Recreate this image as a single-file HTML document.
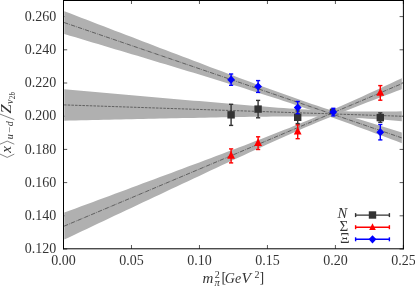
<!DOCTYPE html>
<html><head><meta charset="utf-8"><title>plot</title>
<style>
html,body{margin:0;padding:0;background:#fff;}
body{width:415px;height:286px;overflow:hidden;font-family:"Liberation Serif",serif;}
svg{display:block;will-change:transform;}
text{font-family:"Liberation Serif",serif;fill:#343434;}
.it{font-style:italic;}
</style></head><body>
<svg width="415" height="286" viewBox="0 0 415 286">
<rect x="0" y="0" width="415" height="286" fill="#ffffff"/>
<g stroke="#111" stroke-width="0.7"><line x1="63.50" y1="249.00" x2="67.20" y2="249.00"/><line x1="403.40" y1="249.00" x2="399.60" y2="249.00"/><line x1="63.50" y1="215.80" x2="67.20" y2="215.80"/><line x1="403.40" y1="215.80" x2="399.60" y2="215.80"/><line x1="63.50" y1="182.60" x2="67.20" y2="182.60"/><line x1="403.40" y1="182.60" x2="399.60" y2="182.60"/><line x1="63.50" y1="149.40" x2="67.20" y2="149.40"/><line x1="403.40" y1="149.40" x2="399.60" y2="149.40"/><line x1="63.50" y1="116.20" x2="67.20" y2="116.20"/><line x1="403.40" y1="116.20" x2="399.60" y2="116.20"/><line x1="63.50" y1="83.00" x2="67.20" y2="83.00"/><line x1="403.40" y1="83.00" x2="399.60" y2="83.00"/><line x1="63.50" y1="49.80" x2="67.20" y2="49.80"/><line x1="403.40" y1="49.80" x2="399.60" y2="49.80"/><line x1="63.50" y1="16.60" x2="67.20" y2="16.60"/><line x1="403.40" y1="16.60" x2="399.60" y2="16.60"/><line x1="63.50" y1="248.80" x2="63.50" y2="245.00"/><line x1="63.50" y1="0.50" x2="63.50" y2="4.00"/><line x1="131.48" y1="248.80" x2="131.48" y2="245.00"/><line x1="131.48" y1="0.50" x2="131.48" y2="4.00"/><line x1="199.46" y1="248.80" x2="199.46" y2="245.00"/><line x1="199.46" y1="0.50" x2="199.46" y2="4.00"/><line x1="267.44" y1="248.80" x2="267.44" y2="245.00"/><line x1="267.44" y1="0.50" x2="267.44" y2="4.00"/><line x1="335.42" y1="248.80" x2="335.42" y2="245.00"/><line x1="335.42" y1="0.50" x2="335.42" y2="4.00"/><line x1="403.40" y1="248.80" x2="403.40" y2="245.00"/><line x1="403.40" y1="0.50" x2="403.40" y2="4.00"/></g>
<g><polygon points="64.30,11.20 69.92,13.36 75.55,15.52 81.17,17.69 86.80,19.85 92.42,22.01 98.05,24.17 103.67,26.33 109.30,28.49 114.92,30.65 120.55,32.81 126.17,34.96 131.80,37.12 137.43,39.28 143.05,41.43 148.68,43.58 154.30,45.73 159.93,47.88 165.55,50.03 171.18,52.18 176.80,54.32 182.43,56.46 188.05,58.60 193.68,60.74 199.30,62.87 204.93,65.00 210.55,67.13 216.18,69.25 221.80,71.37 227.43,73.48 233.05,75.58 238.68,77.68 244.30,79.77 249.93,81.86 255.55,83.93 261.18,85.99 266.80,88.04 272.43,90.08 278.05,92.11 283.68,94.11 289.30,96.10 294.93,98.08 300.55,100.03 306.18,101.96 311.80,103.88 317.43,105.77 323.05,107.65 328.68,109.50 334.30,111.34 339.93,113.16 345.55,114.97 351.18,116.77 356.80,118.55 362.43,120.32 368.05,122.08 373.68,123.84 379.30,125.58 384.93,127.32 390.55,129.05 396.18,130.78 401.80,132.50 401.80,143.22 396.18,141.10 390.55,138.98 384.93,136.87 379.30,134.77 373.68,132.67 368.05,130.58 362.43,128.50 356.80,126.43 351.18,124.37 345.55,122.33 339.93,120.29 334.30,118.27 328.68,116.27 323.05,114.29 317.43,112.32 311.80,110.37 306.18,108.44 300.55,106.54 294.93,104.65 289.30,102.78 283.68,100.93 278.05,99.09 272.43,97.27 266.80,95.47 261.18,93.68 255.55,91.90 249.93,90.13 244.30,88.37 238.68,86.62 233.05,84.88 227.43,83.14 221.80,81.41 216.18,79.69 210.55,77.97 204.93,76.25 199.30,74.54 193.68,72.83 188.05,71.13 182.43,69.42 176.80,67.72 171.18,66.02 165.55,64.33 159.93,62.63 154.30,60.94 148.68,59.25 143.05,57.56 137.43,55.87 131.80,54.19 126.17,52.50 120.55,50.82 114.92,49.13 109.30,47.45 103.67,45.77 98.05,44.08 92.42,42.40 86.80,40.72 81.17,39.04 75.55,37.36 69.92,35.69 64.30,34.01" fill="#b0b0b0"/><polygon points="64.30,89.15 69.92,89.65 75.55,90.16 81.17,90.66 86.80,91.16 92.42,91.67 98.05,92.17 103.67,92.67 109.30,93.17 114.92,93.68 120.55,94.18 126.17,94.68 131.80,95.18 137.43,95.68 143.05,96.18 148.68,96.68 154.30,97.17 159.93,97.67 165.55,98.17 171.18,98.66 176.80,99.16 182.43,99.65 188.05,100.14 193.68,100.63 199.30,101.12 204.93,101.61 210.55,102.10 216.18,102.58 221.80,103.06 227.43,103.54 233.05,104.02 238.68,104.49 244.30,104.96 249.93,105.42 255.55,105.88 261.18,106.33 266.80,106.78 272.43,107.22 278.05,107.65 283.68,108.07 289.30,108.47 294.93,108.86 300.55,109.24 306.18,109.59 311.80,109.92 317.43,110.22 323.05,110.50 328.68,110.74 334.30,110.95 339.93,111.13 345.55,111.27 351.18,111.38 356.80,111.46 362.43,111.51 368.05,111.54 373.68,111.55 379.30,111.54 384.93,111.52 390.55,111.48 396.18,111.43 401.80,111.37 401.80,121.13 396.18,120.69 390.55,120.27 384.93,119.85 379.30,119.45 373.68,119.06 368.05,118.69 362.43,118.34 356.80,118.02 351.18,117.72 345.55,117.45 339.93,117.22 334.30,117.01 328.68,116.85 323.05,116.71 317.43,116.61 311.80,116.53 306.18,116.48 300.55,116.46 294.93,116.46 289.30,116.47 283.68,116.50 278.05,116.54 272.43,116.59 266.80,116.65 261.18,116.72 255.55,116.79 249.93,116.87 244.30,116.96 238.68,117.05 233.05,117.14 227.43,117.24 221.80,117.34 216.18,117.45 210.55,117.55 204.93,117.66 199.30,117.77 193.68,117.88 188.05,117.99 182.43,118.11 176.80,118.22 171.18,118.34 165.55,118.46 159.93,118.58 154.30,118.69 148.68,118.81 143.05,118.93 137.43,119.06 131.80,119.18 126.17,119.30 120.55,119.42 114.92,119.55 109.30,119.67 103.67,119.79 98.05,119.92 92.42,120.04 86.80,120.17 81.17,120.30 75.55,120.42 69.92,120.55 64.30,120.67" fill="#b0b0b0"/><polygon points="64.30,212.61 69.92,210.52 75.55,208.44 81.17,206.35 86.80,204.26 92.42,202.18 98.05,200.09 103.67,198.00 109.30,195.92 114.92,193.83 120.55,191.74 126.17,189.65 131.80,187.56 137.43,185.47 143.05,183.37 148.68,181.28 154.30,179.19 159.93,177.09 165.55,175.00 171.18,172.90 176.80,170.80 182.43,168.70 188.05,166.59 193.68,164.49 199.30,162.38 204.93,160.27 210.55,158.16 216.18,156.04 221.80,153.92 227.43,151.80 233.05,149.67 238.68,147.54 244.30,145.40 249.93,143.25 255.55,141.09 261.18,138.92 266.80,136.75 272.43,134.55 278.05,132.35 283.68,130.12 289.30,127.88 294.93,125.61 300.55,123.32 306.18,121.00 311.80,118.66 317.43,116.28 323.05,113.88 328.68,111.45 334.30,108.99 339.93,106.51 345.55,104.00 351.18,101.48 356.80,98.94 362.43,96.38 368.05,93.81 373.68,91.23 379.30,88.64 384.93,86.05 390.55,83.44 396.18,80.83 401.80,78.21 401.80,89.22 396.18,91.35 390.55,93.48 384.93,95.62 379.30,97.77 373.68,99.92 368.05,102.09 362.43,104.27 356.80,106.46 351.18,108.66 345.55,110.88 339.93,113.12 334.30,115.39 328.68,117.67 323.05,119.99 317.43,122.33 311.80,124.70 306.18,127.10 300.55,129.53 294.93,131.98 289.30,134.46 283.68,136.96 278.05,139.48 272.43,142.02 266.80,144.57 261.18,147.14 255.55,149.72 249.93,152.31 244.30,154.90 238.68,157.51 233.05,160.12 227.43,162.73 221.80,165.36 216.18,167.98 210.55,170.61 204.93,173.24 199.30,175.88 193.68,178.52 188.05,181.16 182.43,183.80 176.80,186.44 171.18,189.09 165.55,191.74 159.93,194.39 154.30,197.04 148.68,199.69 143.05,202.34 137.43,204.99 131.80,207.65 126.17,210.30 120.55,212.96 114.92,215.61 109.30,218.27 103.67,220.93 98.05,223.58 92.42,226.24 86.80,228.90 81.17,231.56 75.55,234.22 69.92,236.88 64.30,239.54" fill="#b0b0b0"/></g>
<g stroke="#161616" stroke-width="0.52" fill="none"><line x1="64.00" y1="22.50" x2="401.80" y2="137.86" stroke-dasharray="4.44 1.11 0.69 1.11"/><line x1="64.00" y1="104.90" x2="401.80" y2="116.25" stroke-dasharray="2.57 1.11"/><line x1="64.00" y1="226.20" x2="401.80" y2="83.72" stroke-dasharray="4.44 1.11 0.69 1.11"/></g>
<g stroke="#ff0000" stroke-width="1.40" fill="none"><line x1="231.10" y1="148.90" x2="231.10" y2="162.90"/><line x1="229.00" y1="148.90" x2="233.20" y2="148.90"/><line x1="229.00" y1="162.90" x2="233.20" y2="162.90"/></g><polygon points="231.10,150.90 227.20,158.70 235.00,158.70" fill="#ff0000"/><g stroke="#ff0000" stroke-width="1.40" fill="none"><line x1="258.10" y1="136.80" x2="258.10" y2="149.50"/><line x1="256.00" y1="136.80" x2="260.20" y2="136.80"/><line x1="256.00" y1="149.50" x2="260.20" y2="149.50"/></g><polygon points="258.10,138.15 254.20,145.95 262.00,145.95" fill="#ff0000"/><g stroke="#ff0000" stroke-width="1.40" fill="none"><line x1="297.70" y1="124.80" x2="297.70" y2="138.70"/><line x1="295.60" y1="124.80" x2="299.80" y2="124.80"/><line x1="295.60" y1="138.70" x2="299.80" y2="138.70"/></g><polygon points="297.70,126.75 293.80,134.55 301.60,134.55" fill="#ff0000"/><g stroke="#ff0000" stroke-width="1.40" fill="none"><line x1="380.30" y1="85.60" x2="380.30" y2="100.20"/><line x1="378.20" y1="85.60" x2="382.40" y2="85.60"/><line x1="378.20" y1="100.20" x2="382.40" y2="100.20"/></g><polygon points="380.30,87.90 376.40,95.70 384.20,95.70" fill="#ff0000"/><g stroke="#333333" stroke-width="1.40" fill="none"><line x1="231.10" y1="104.30" x2="231.10" y2="125.40"/><line x1="229.00" y1="104.30" x2="233.20" y2="104.30"/><line x1="229.00" y1="125.40" x2="233.20" y2="125.40"/></g><rect x="227.40" y="111.15" width="7.40" height="7.40" fill="#333333"/><g stroke="#333333" stroke-width="1.40" fill="none"><line x1="258.10" y1="100.40" x2="258.10" y2="117.80"/><line x1="256.00" y1="100.40" x2="260.20" y2="100.40"/><line x1="256.00" y1="117.80" x2="260.20" y2="117.80"/></g><rect x="254.40" y="105.40" width="7.40" height="7.40" fill="#333333"/><g stroke="#333333" stroke-width="1.40" fill="none"><line x1="297.70" y1="111.00" x2="297.70" y2="123.60"/><line x1="295.60" y1="111.00" x2="299.80" y2="111.00"/><line x1="295.60" y1="123.60" x2="299.80" y2="123.60"/></g><rect x="294.00" y="113.60" width="7.40" height="7.40" fill="#333333"/><rect x="329.80" y="108.60" width="5.60" height="5.60" fill="#333333"/><g stroke="#333333" stroke-width="1.40" fill="none"><line x1="380.30" y1="112.90" x2="380.30" y2="122.30"/><line x1="378.20" y1="112.90" x2="382.40" y2="112.90"/><line x1="378.20" y1="122.30" x2="382.40" y2="122.30"/></g><rect x="376.60" y="113.90" width="7.40" height="7.40" fill="#333333"/><g stroke="#0000ff" stroke-width="1.40" fill="none"><line x1="231.10" y1="74.00" x2="231.10" y2="85.30"/><line x1="229.00" y1="74.00" x2="233.20" y2="74.00"/><line x1="229.00" y1="85.30" x2="233.20" y2="85.30"/></g><polygon points="231.10,75.55 235.00,79.65 231.10,83.75 227.20,79.65" fill="#0000ff"/><g stroke="#0000ff" stroke-width="1.40" fill="none"><line x1="258.10" y1="80.60" x2="258.10" y2="92.40"/><line x1="256.00" y1="80.60" x2="260.20" y2="80.60"/><line x1="256.00" y1="92.40" x2="260.20" y2="92.40"/></g><polygon points="258.10,82.40 262.00,86.50 258.10,90.60 254.20,86.50" fill="#0000ff"/><g stroke="#0000ff" stroke-width="1.40" fill="none"><line x1="297.70" y1="101.50" x2="297.70" y2="113.70"/><line x1="295.60" y1="101.50" x2="299.80" y2="101.50"/><line x1="295.60" y1="113.70" x2="299.80" y2="113.70"/></g><polygon points="297.70,103.50 301.60,107.60 297.70,111.70 293.80,107.60" fill="#0000ff"/><g stroke="#0000ff" stroke-width="1.40" fill="none"><line x1="333.30" y1="108.30" x2="333.30" y2="115.90"/><line x1="331.20" y1="108.30" x2="335.40" y2="108.30"/><line x1="331.20" y1="115.90" x2="335.40" y2="115.90"/></g><polygon points="333.30,108.00 337.20,112.10 333.30,116.20 329.40,112.10" fill="#0000ff"/><g stroke="#0000ff" stroke-width="1.40" fill="none"><line x1="380.30" y1="124.50" x2="380.30" y2="139.90"/><line x1="378.20" y1="124.50" x2="382.40" y2="124.50"/><line x1="378.20" y1="139.90" x2="382.40" y2="139.90"/></g><polygon points="380.30,128.10 384.20,132.20 380.30,136.30 376.40,132.20" fill="#0000ff"/>
<g stroke="#000" stroke-width="1" fill="none"><line x1="63.50" y1="0" x2="63.50" y2="249.30"/><line x1="403.40" y1="0" x2="403.40" y2="249.30"/><line x1="63.00" y1="248.80" x2="403.90" y2="248.80"/><line x1="63.00" y1="0.50" x2="403.90" y2="0.50"/></g>
<g stroke="#333333" stroke-width="1.40" fill="none"><line x1="355.60" y1="215.10" x2="389.40" y2="215.10"/><line x1="355.60" y1="213.10" x2="355.60" y2="217.10"/><line x1="389.40" y1="213.10" x2="389.40" y2="217.10"/></g><rect x="368.80" y="211.30" width="7.40" height="7.40" fill="#333333"/><g stroke="#ff0000" stroke-width="1.40" fill="none"><line x1="355.60" y1="227.20" x2="389.40" y2="227.20"/><line x1="355.60" y1="225.20" x2="355.60" y2="229.20"/><line x1="389.40" y1="225.20" x2="389.40" y2="229.20"/></g><polygon points="372.50,223.30 369.20,229.90 375.80,229.90" fill="#ff0000"/><g stroke="#0000ff" stroke-width="1.40" fill="none"><line x1="355.60" y1="239.30" x2="389.40" y2="239.30"/><line x1="355.60" y1="237.30" x2="355.60" y2="241.30"/><line x1="389.40" y1="237.30" x2="389.40" y2="241.30"/></g><polygon points="372.50,235.20 376.40,239.30 372.50,243.40 368.60,239.30" fill="#0000ff"/>
<text class="it" x="337.4" y="218.2" font-size="14.5">N</text><text x="339.5" y="231.0" font-size="15">Σ</text><text x="339.9" y="242.7" font-size="15">Ξ</text>
<text x="56.2" y="253.20" font-size="14" text-anchor="end">0.120</text><text x="56.2" y="220.00" font-size="14" text-anchor="end">0.140</text><text x="56.2" y="186.80" font-size="14" text-anchor="end">0.160</text><text x="56.2" y="153.60" font-size="14" text-anchor="end">0.180</text><text x="56.2" y="120.40" font-size="14" text-anchor="end">0.200</text><text x="56.2" y="87.20" font-size="14" text-anchor="end">0.220</text><text x="56.2" y="54.00" font-size="14" text-anchor="end">0.240</text><text x="56.2" y="20.80" font-size="14" text-anchor="end">0.260</text><text x="63.50" y="264.7" font-size="14" text-anchor="middle">0.00</text><text x="131.48" y="264.7" font-size="14" text-anchor="middle">0.05</text><text x="199.46" y="264.7" font-size="14" text-anchor="middle">0.10</text><text x="267.44" y="264.7" font-size="14" text-anchor="middle">0.15</text><text x="335.42" y="264.7" font-size="14" text-anchor="middle">0.20</text><text x="403.40" y="264.7" font-size="14" text-anchor="middle">0.25</text>
<g font-size="14"><text class="it" x="202.5" y="282.5" font-size="15">m</text><text x="214.8" y="278.0" font-size="10">2</text><text class="it" x="214.6" y="286.0" font-size="10.5">π</text><text x="221.4" y="282.5" transform="translate(0,-32) scale(1,1.11)">[</text><text class="it" x="224.8" y="282.5">G</text><text class="it" x="235.0" y="282.5">e</text><text class="it" x="241.6" y="282.5" font-size="15.5">V</text><text x="254.4" y="278.0" font-size="10">2</text><text x="259.4" y="282.5" transform="translate(0,-32) scale(1,1.11)">]</text></g>
<g transform="translate(11,158) rotate(-90)" font-size="14"><polyline points="3.9,-11 0.6,-3.8 3.9,3.3" fill="none" stroke="#343434" stroke-width="0.6"/><text class="it" x="5.2" y="0" font-size="15">x</text><polyline points="13.8,-11 16.9,-3.8 13.8,3.3" fill="none" stroke="#343434" stroke-width="0.6"/><text class="it" x="18.7" y="2.2" font-size="10">u</text><text x="25.2" y="2.2" font-size="10" textLength="6.2" lengthAdjust="spacingAndGlyphs">−</text><text class="it" x="31.8" y="2.2" font-size="10">d</text><line x1="38.3" y1="3.3" x2="43.9" y2="-11" stroke="#343434" stroke-width="0.6"/><text class="it" x="44.6" y="0" font-size="15" textLength="9.2" lengthAdjust="spacingAndGlyphs">Z</text><text class="it" x="54.0" y="2.0" font-size="10">v</text><text x="58.7" y="4.0" font-size="7.2">2</text><text class="it" x="62.6" y="4.0" font-size="7.2">b</text></g>
</svg></body></html>
